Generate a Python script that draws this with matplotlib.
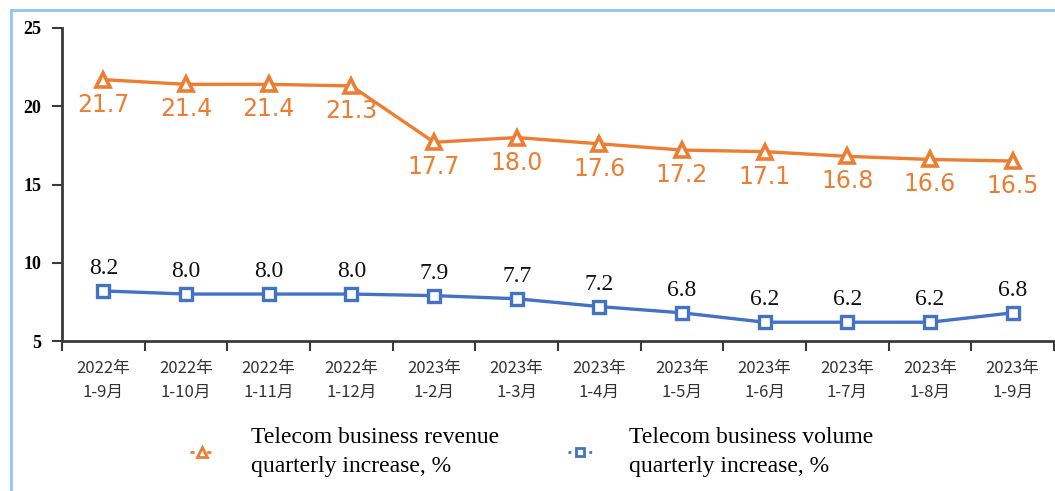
"""
telecom_growth.py
Telecom business revenue / volume cumulative growth, 2022-09 .. 2023-09.
"""

import matplotlib
matplotlib.use("Agg")
import matplotlib.pyplot as plt
from matplotlib.lines import Line2D

# ---------------------------------------------------------------------------
# data
# ---------------------------------------------------------------------------

periods = ["2022年\n1-9月", "2022年\n1-10月", "2022年\n1-11月", "2022年\n1-12月",
           "2023年\n1-2月", "2023年\n1-3月", "2023年\n1-4月", "2023年\n1-5月",
           "2023年\n1-6月", "2023年\n1-7月", "2023年\n1-8月", "2023年\n1-9月"]
revenue = [21.7, 21.4, 21.4, 21.3, 17.7, 18.0, 17.6, 17.2, 17.1, 16.8, 16.6, 16.5]
volume = [8.2, 8.0, 8.0, 8.0, 7.9, 7.7, 7.2, 6.8, 6.2, 6.2, 6.2, 6.8]
y_ticks = [5, 10, 15, 20, 25]

revenue_name = "Telecom business revenue\nquarterly increase, %"
volume_name = "Telecom business volume\nquarterly increase, %"

ORANGE = "#ED7D31"
BLUE = "#4472C4"
SPINE = "#3a3a3a"
SERIF = ["Liberation Serif", "DejaVu Serif"]
CJK = ["Noto Sans CJK SC", "DejaVu Sans"]

# ---------------------------------------------------------------------------
# figure
# ---------------------------------------------------------------------------

fig = plt.figure(figsize=(10.55, 4.91), dpi=100)
ax = fig.add_axes([62 / 1055, 1 - 341 / 491, (1054 - 62) / 1055, (341 - 28) / 491])

x = list(range(len(periods)))

ax.plot(x, revenue, color=ORANGE, lw=2.4, marker="^", markersize=10,
        markerfacecolor="white", markeredgecolor=ORANGE, markeredgewidth=2.6,
        zorder=3)
ax.plot(x, volume, color=BLUE, lw=2.4, marker="s", markersize=8,
        markerfacecolor="white", markeredgecolor=BLUE, markeredgewidth=2.4,
        zorder=3)

# value labels: orange below, blue above
for xi, v in zip(x, revenue):
    ax.annotate(f"{v:.1f}", (xi, v), textcoords="offset points", xytext=(0, -18),
                ha="center", va="center", fontsize=17, color=ORANGE,
                family="DejaVu Sans")
for xi, v in zip(x, volume):
    ax.annotate(f"{v:.1f}", (xi, v), textcoords="offset points", xytext=(0, 16),
                ha="center", va="center", fontsize=17, color="#111111",
                family=SERIF)

ax.set_xlim(-0.5, len(periods) - 0.5)
ax.set_ylim(5, 25)

# ticks on the category boundaries, labels in the middle
ax.set_xticks([i - 0.5 for i in range(len(periods) + 1)])
ax.set_xticklabels([])
ax.set_xticks(x, minor=True)
ax.set_xticklabels(periods, minor=True, fontsize=12, color="#333333",
                   family=CJK, linespacing=1.5)
ax.tick_params(axis="x", which="major", direction="out", length=7, width=1.5,
               color=SPINE)
ax.tick_params(axis="x", which="minor", length=0, pad=14)

ax.set_yticks(y_ticks)
ax.set_yticklabels([str(t) for t in y_ticks], fontsize=13, fontweight="bold",
                   family=SERIF)
ax.tick_params(axis="y", direction="out", length=7, width=1.5, color=SPINE, pad=8)

for side in ("top", "right"):
    ax.spines[side].set_visible(False)
for side in ("left", "bottom"):
    ax.spines[side].set_color(SPINE)
    ax.spines[side].set_linewidth(2)

# legend at the bottom
handles = [
    Line2D([], [], color=ORANGE, lw=2, ls=(0, (1.5, 1.5)), marker="^", markersize=7,
           markerfacecolor="white", markeredgecolor=ORANGE, markeredgewidth=2),
    Line2D([], [], color=BLUE, lw=2, ls=(0, (1, 1.5)), marker="s", markersize=6,
           markerfacecolor="white", markeredgecolor=BLUE, markeredgewidth=2),
]
leg = fig.legend(handles, [revenue_name, volume_name], loc="center left",
                 bbox_to_anchor=(190 / 1055, 1 - 452 / 491), ncol=2, frameon=False,
                 handlelength=1.0, handletextpad=1.6, columnspacing=2.9,
                 borderpad=0, borderaxespad=0,
                 prop={"family": SERIF, "size": 17})
for t in leg.get_texts():
    t.set_linespacing(1.5)

# light blue frame round the picture (left + top only)
fig.add_artist(Line2D([11 / 1055, 11 / 1055], [0, 1 - 10 / 491],
                      transform=fig.transFigure, color="#8EC8F2", lw=2))
fig.add_artist(Line2D([11 / 1055, 1], [1 - 10 / 491, 1 - 10 / 491],
                      transform=fig.transFigure, color="#8EC8F2", lw=2))

fig.savefig("out.png", dpi=100)
plt.close(fig)
